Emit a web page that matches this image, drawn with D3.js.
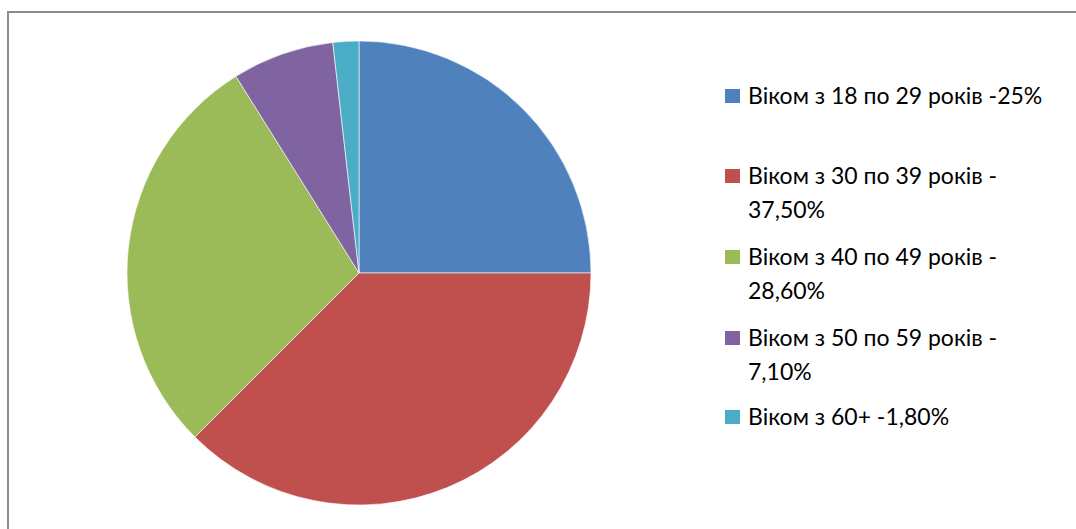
<!DOCTYPE html>
<html>
<head>
<meta charset="utf-8">
<script src="https://cdn.jsdelivr.net/npm/d3@7"></script>
<style>
  body { margin: 0; background: #fff; }
  text { font-family: Lato, "Open Sans", sans-serif; }
</style>
</head>
<body>
<div id="chart"></div>
<script>
// age groups, shares in percent
const groups = ["18-29", "30-39", "40-49", "50-59", "60+"];
const shares = [25, 37.5, 28.6, 7.1, 1.8];
const colors = ["#4F81BD", "#C0504D", "#9BBB59", "#8064A2", "#4BACC6"];
const legendLines = [
  ["Віком з 18 по 29 років -25%"],
  ["Віком з 30 по 39 років -", "37,50%"],
  ["Віком з 40 по 49 років -", "28,60%"],
  ["Віком з 50 по 59 років -", "7,10%"],
  ["Віком з 60+ -1,80%"]
];

const width = 1076, height = 529;
const svg = d3.select("#chart").append("svg")
  .attr("width", width)
  .attr("height", height);

// chart frame
svg.append("rect")
  .attr("x", 8)
  .attr("y", 12)
  .attr("width", 1100)
  .attr("height", 600)
  .attr("fill", "none")
  .attr("stroke", "#8c8c8c")
  .attr("stroke-width", 2);

const data = groups.map((g, i) => ({ group: g, value: shares[i], color: colors[i], lines: legendLines[i] }));

const pie = d3.pie().sort(null).value(d => d.value);
const arc = d3.arc().innerRadius(0).outerRadius(232);

const g = svg.append("g").attr("transform", "translate(359,273)");
g.selectAll("path")
  .data(pie(data))
  .enter().append("path")
  .attr("d", arc)
  .attr("fill", d => d.data.color)
  .attr("stroke", "#ffffff")
  .attr("stroke-opacity", 0.6)
  .attr("stroke-width", 1);

// legend
const legendY = [96, 176, 257, 338, 417];
const legend = svg.append("g");
const item = legend.selectAll("g")
  .data(data)
  .enter().append("g")
  .attr("transform", (d, i) => `translate(725,${legendY[i]})`);

item.append("rect")
  .attr("x", 0)
  .attr("y", -7)
  .attr("width", 15)
  .attr("height", 14)
  .attr("fill", d => d.color);

item.each(function (d) {
  d3.select(this).selectAll("text")
    .data(d.lines)
    .enter().append("text")
    .attr("x", 23)
    .attr("y", (t, j) => j * 34)
    .attr("dy", "0.36em")
    .attr("fill", "#000")
    .style("font-size", "23px")
    .text(t => t);
});
</script>
</body>
</html>
